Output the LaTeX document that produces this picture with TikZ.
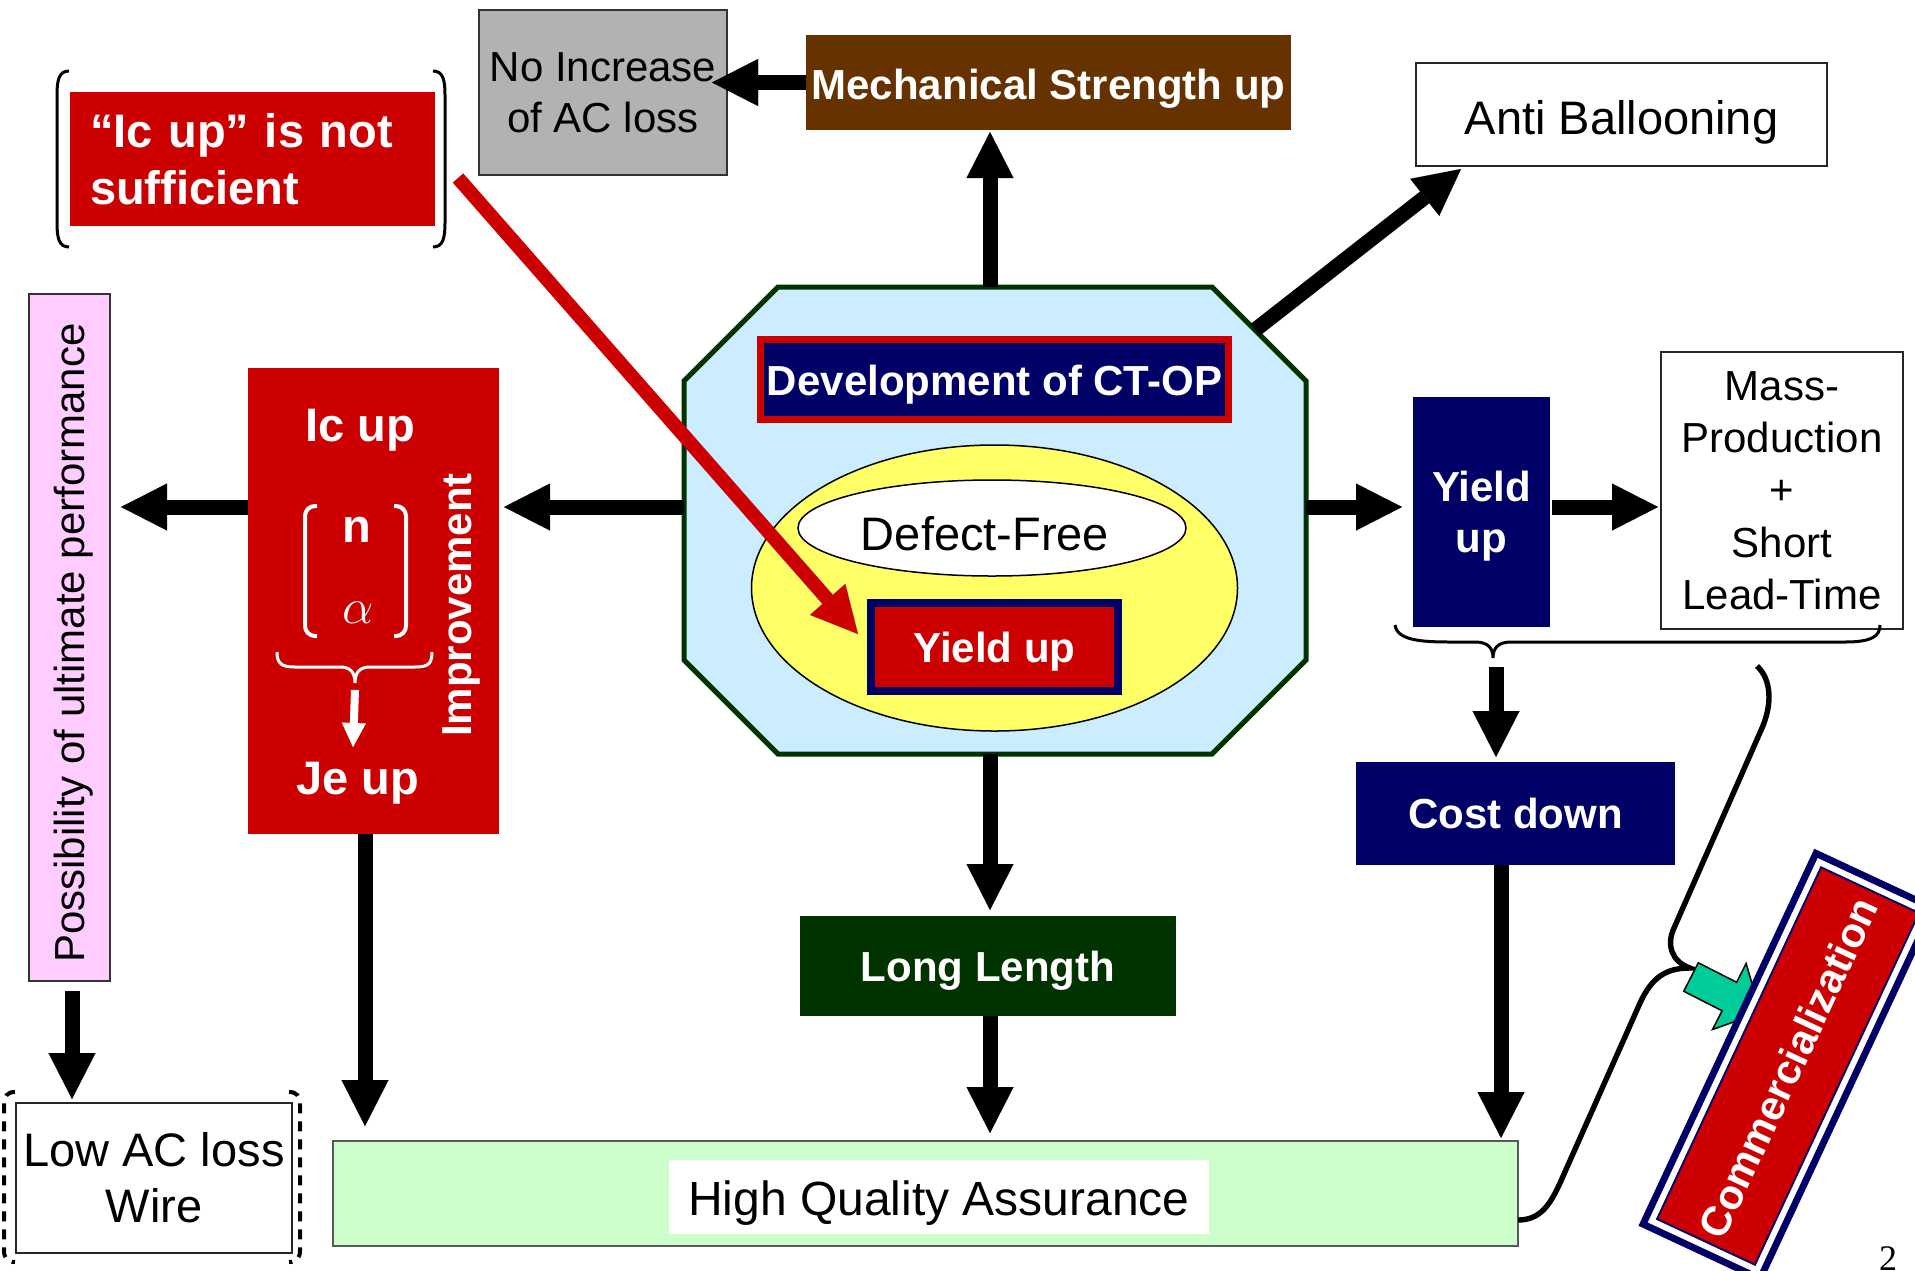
\documentclass[tikz,border=0pt]{standalone}
\usepackage{fontspec}
\setmainfont{Liberation Sans}
\newfontfamily\serifnum{Liberation Serif}
\usetikzlibrary{arrows.meta,shapes.geometric,calc}

\definecolor{cRed}{HTML}{CC0000}
\definecolor{cNavy}{HTML}{000066}
\definecolor{cBrown}{HTML}{663300}
\definecolor{cGrey}{HTML}{B2B2B2}
\definecolor{cSky}{HTML}{CCECFF}
\definecolor{cDkGreen}{HTML}{003300}
\definecolor{cYellow}{HTML}{FFFF66}
\definecolor{cPink}{HTML}{FFCCFF}
\definecolor{cMint}{HTML}{CCFFCC}
\definecolor{cTeal}{HTML}{00CC99}

\newcommand\fsA{\fontsize{21}{25.5}\selectfont}
\newcommand\fsB{\fontsize{23.5}{28}\selectfont}
\newcommand\fsC{\fontsize{24}{28.5}\selectfont}

\begin{document}
\begin{tikzpicture}[x=0.5pt,y=-0.5pt,
  box/.style={rectangle, inner sep=0pt, outer sep=0pt, align=center},
  whitebold/.style={text=white, font=\fsA\bfseries},
  bigarrow/.style={line width=7.5pt, -{Triangle[width=23.5pt,length=23pt,line width=0.01pt]}},
  redarrow/.style={cRed, line width=7pt, -{Triangle[width=23.5pt,length=23pt,line width=0.01pt]}},
  smallwhitearrow/.style={white, line width=4pt, -{Triangle[width=12pt,length=12pt,line width=0.01pt]}},
  thinframe/.style={draw=black!85, line width=1pt},
  bracestyle/.style={line width=1.5pt},
]
\useasboundingbox (0,0) rectangle (1915,1270);
\fill[white] (0,0) rectangle (1915,1270);

% ---------- top left: "Ic up" is not sufficient ----------
\node[box, fill=cRed, minimum width=182.5pt, minimum height=67pt, text width=162.5pt, align=left,
      text=white, font=\fontsize{23.5}{28.5}\selectfont\bfseries] (nosuff) at (252.5,159) {“Ic up” is not\\sufficient};
\draw[bracestyle] (69,71) .. controls (59,71) and (57,80) .. (57,95) -- (57,223) .. controls (57,238) and (59,247) .. (69,247);
\draw[bracestyle] (433,71) .. controls (443,71) and (445,80) .. (445,95) -- (445,223) .. controls (445,238) and (443,247) .. (433,247);

% ---------- top boxes ----------
\node[box, fill=cGrey, draw=black!80, line width=1pt, minimum width=124pt, minimum height=82.5pt,
      font=\fsA] (noinc) at (603,92.5) {No Increase\\of AC loss};
\node[box, fill=cBrown, minimum width=242.5pt, minimum height=47.5pt, whitebold, text height=17pt, text depth=0pt] (mech) at (1048.5,82.5) {Mechanical Strength up};
\node[box, thinframe, minimum width=205.5pt, minimum height=51.5pt, font=\fsB, text height=19.5pt, text depth=0pt] (anti) at (1621.5,114.5) {Anti Ballooning};

% ---------- central octagon ----------
\node[box, minimum width=311pt, minimum height=233.5pt] (oct) at (995,520.5) {};
\draw[fill=cSky, draw=cDkGreen, line width=2.5pt]
  ($(oct.north west)+(47pt,0)$) -- ($(oct.north east)+(-47pt,0)$) -- ($(oct.north east)+(0,-47pt)$)
  -- ($(oct.south east)+(0,47pt)$) -- ($(oct.south east)+(-47pt,0)$) -- ($(oct.south west)+(47pt,0)$)
  -- ($(oct.south west)+(0,47pt)$) -- ($(oct.north west)+(0,-47pt)$) -- cycle;
\node[box, fill=cNavy, draw=cRed, line width=3.5pt, minimum width=234pt, minimum height=40pt, whitebold, text height=15.8pt, text depth=0pt] (dev) at (994.5,379.5) {Development of CT-OP};
\node[ellipse, inner sep=0pt, fill=cYellow, draw=black, line width=0.75pt, minimum width=243pt, minimum height=143pt] (yell) at (994.5,588) {};
\node[ellipse, inner sep=0pt, fill=white, draw=black, line width=0.75pt, minimum width=194pt, minimum height=48pt] (defect) at (992,528) {};
\node[font=\fsB, inner sep=0pt] (defecttxt) at (985,534) {Defect-Free};
\node[box, fill=cRed, draw=cNavy, line width=4pt, minimum width=123.5pt, minimum height=44pt, whitebold, text height=15.8pt, text depth=0pt] (yieldin) at (994.5,647) {Yield up};

% ---------- left: improvement box ----------
\node[box, fill=cRed, minimum width=125.5pt, minimum height=233pt] (impr) at (373.5,601) {};
\node[text=white, font=\fsB\bfseries, inner sep=0pt] (icup) at (360,430) {Ic up};
\node[text=white, font=\fsB\bfseries, inner sep=0pt] (nn) at (357,530) {n};
\node[text=white, font=\fsB, inner sep=0pt] (alph) at (358,613) {$\alpha$};
\node[text=white, font=\fsB\bfseries, inner sep=0pt] (jeup) at (358,783) {Je up};
\node[rotate=90, whitebold, inner sep=0pt] (improv) at (461,605) {Improvement};
\draw[white, line width=2pt, rounded corners=5pt] (317,506) -- (305,506) -- (305,636) -- (317,636);
\draw[white, line width=2pt, rounded corners=5pt] (394,506) -- (406,506) -- (406,636) -- (394,636);
\draw[white, bracestyle] (277,652) .. controls (277,664) and (282,667) .. (295,667) -- (340,667)
  .. controls (350,667) and (355,672) .. (355,683) .. controls (355,672) and (360,667) .. (370,667)
  -- (415,667) .. controls (428,667) and (432,664) .. (432,652);
\coordinate (ibtip) at (355,690);
\coordinate (ibend) at (353,747);
\draw[smallwhitearrow] (ibtip) -- (ibend);

% ---------- far left ----------
\node[box, fill=cPink, draw=black!80, line width=1pt, minimum width=40.5pt, minimum height=343.5pt] (pink) at (69.5,637.5) {};
\node[rotate=90, font=\fsA, inner sep=0pt] (pinktxt) at (74,643) {Possibility of ultimate performance};
\node[box, thinframe, minimum width=138pt, minimum height=75pt, font=\fsB] (low) at (154,1178) {Low AC loss\\Wire};
\draw[line width=2pt, dash pattern=on 5pt off 4pt] (15,1092) .. controls (7,1092) and (4,1096) .. (4,1106) -- (4,1250) .. controls (4,1258) and (7,1262) .. (15,1262);
\draw[line width=2pt, dash pattern=on 5pt off 4pt] (289,1092) .. controls (297,1092) and (300,1096) .. (300,1106) -- (300,1250) .. controls (300,1258) and (297,1262) .. (289,1262);

% ---------- bottom ----------
\node[box, fill=cMint, draw=black!65, line width=1pt, minimum width=592.5pt, minimum height=52.5pt] (hq) at (925.5,1193.5) {};
\node[box, fill=white, minimum width=270pt, minimum height=37pt, font=\fsC, text height=18.5pt, text depth=0pt] (hqt) at (939,1197) {High Quality Assurance};
\node[box, fill=cDkGreen, minimum width=188pt, minimum height=50pt, whitebold, text height=15.8pt, text depth=0pt] (long) at (988,966) {Long Length};

% ---------- right ----------
\node[box, fill=cNavy, minimum width=68.5pt, minimum height=115pt, text=white, font=\fontsize{21}{25.5}\selectfont\bfseries, text depth=0pt] (yieldr) at (1481.5,512) {Yield\\up};
\node[box, thinframe, minimum width=121pt, minimum height=138.5pt, font=\fontsize{21}{26.2}\selectfont, text depth=0pt] (mass) at (1782,490.5) {Mass-\\Production\\+\\Short\\Lead-Time};
\draw[bracestyle] (1395,625) .. controls (1397,640) and (1420,642) .. (1450,642) -- (1475,642)
  .. controls (1488,642) and (1493,648) .. (1493,658) .. controls (1493,648) and (1498,642) .. (1511,642)
  -- (1845,642) .. controls (1872,642) and (1880,636) .. (1880,625);
\coordinate (brtip) at (1496,658);
\node[box, fill=cNavy, minimum width=159.5pt, minimum height=51.5pt, whitebold] (cost) at (1515.5,813.5) {Cost down};

% ---------- connectors ----------
\coordinate (hl) at (0,507);
\coordinate (vx) at (990,0);
\coordinate (lx) at (365,0);
\coordinate (cx) at (1501,0);
\coordinate (px) at (72,0);
\coordinate (octne) at (1255,330);
\coordinate (antitip) at ([xshift=22.5pt,yshift=-1.5pt]anti.south west);
\coordinate (rstart) at (458,178);

\draw[bigarrow, shorten >=-7.5pt] (mech.west) -- (noinc.east |- mech.west);
\draw[bigarrow, shorten >=1pt] (oct.north -| vx) -- (mech.south -| vx);
\draw[bigarrow] (octne) -- (antitip);
\draw[bigarrow, shorten >=2.5pt] (oct.west |- hl) -- (impr.east |- hl);
\draw[bigarrow, shorten >=5.5pt] (impr.west |- hl) -- (pink.east |- hl);
\draw[bigarrow, shorten >=5.5pt] (oct.east |- hl) -- (yieldr.west |- hl);
\draw[bigarrow, shorten <=1pt, shorten >=1.5pt] (yieldr.east |- hl) -- (mass.west |- hl);
\draw[bigarrow, shorten >=3pt] (oct.south -| vx) -- (long.north -| vx);
\draw[bigarrow, shorten >=4pt] (long.south -| vx) -- (hq.north -| vx);
\draw[bigarrow, shorten >=7.5pt] (impr.south -| lx) -- (hq.north -| lx);
\draw[bigarrow, shorten >=1.5pt] (cost.south -| cx) -- (hq.north -| cx);
\draw[bigarrow, shorten <=5pt, shorten >=2pt] (pink.south -| px) -- (low.north -| px);
\draw[bigarrow, shorten <=4.5pt, shorten >=2.5pt] (brtip) -- (cost.north -| brtip);
\draw[redarrow] (rstart) -- ([xshift=-6.5pt,yshift=6.5pt]yieldin.west);

% ---------- big brace to commercialization ----------
\draw[line width=2.7pt] ([yshift=-13.25pt]hq.east) .. controls (1540,1220) and (1550,1205) .. (1560,1183)
  -- (1640,1003) .. controls (1652,977) and (1666,968) .. (1690,968)
  .. controls (1672,962) and (1666,945) .. (1674,928) -- (1762,728)
  .. controls (1772,705) and (1772,680) .. (1757,666);

\begin{scope}[shift={(1691,977)}, rotate=-27]
  \draw[fill=cTeal, line width=0.75pt] (0,-16) -- (43,-16) -- (43,-37) -- (78,0) -- (43,37) -- (43,16) -- (0,16) -- cycle;
\end{scope}
\begin{scope}[shift={(1788,1066)}, rotate=65]
  \fill[cNavy] (-208,-68) rectangle (208,68);
  \fill[white] (-201,-61) rectangle (201,61);
  \fill[cNavy] (-195,-55) rectangle (195,55);
  \fill[cRed] (-193,-53) rectangle (193,53);
\end{scope}
\node[rotate=65, text=white, font=\fontsize{20.8}{24}\selectfont\bfseries, inner sep=0pt] (comm) at (1788,1068) {Commercialization};

\node[font=\serifnum\fontsize{18}{22}\selectfont, anchor=base, inner sep=0pt] (pg) at (1888,1270) {2};
\end{tikzpicture}
\end{document}
